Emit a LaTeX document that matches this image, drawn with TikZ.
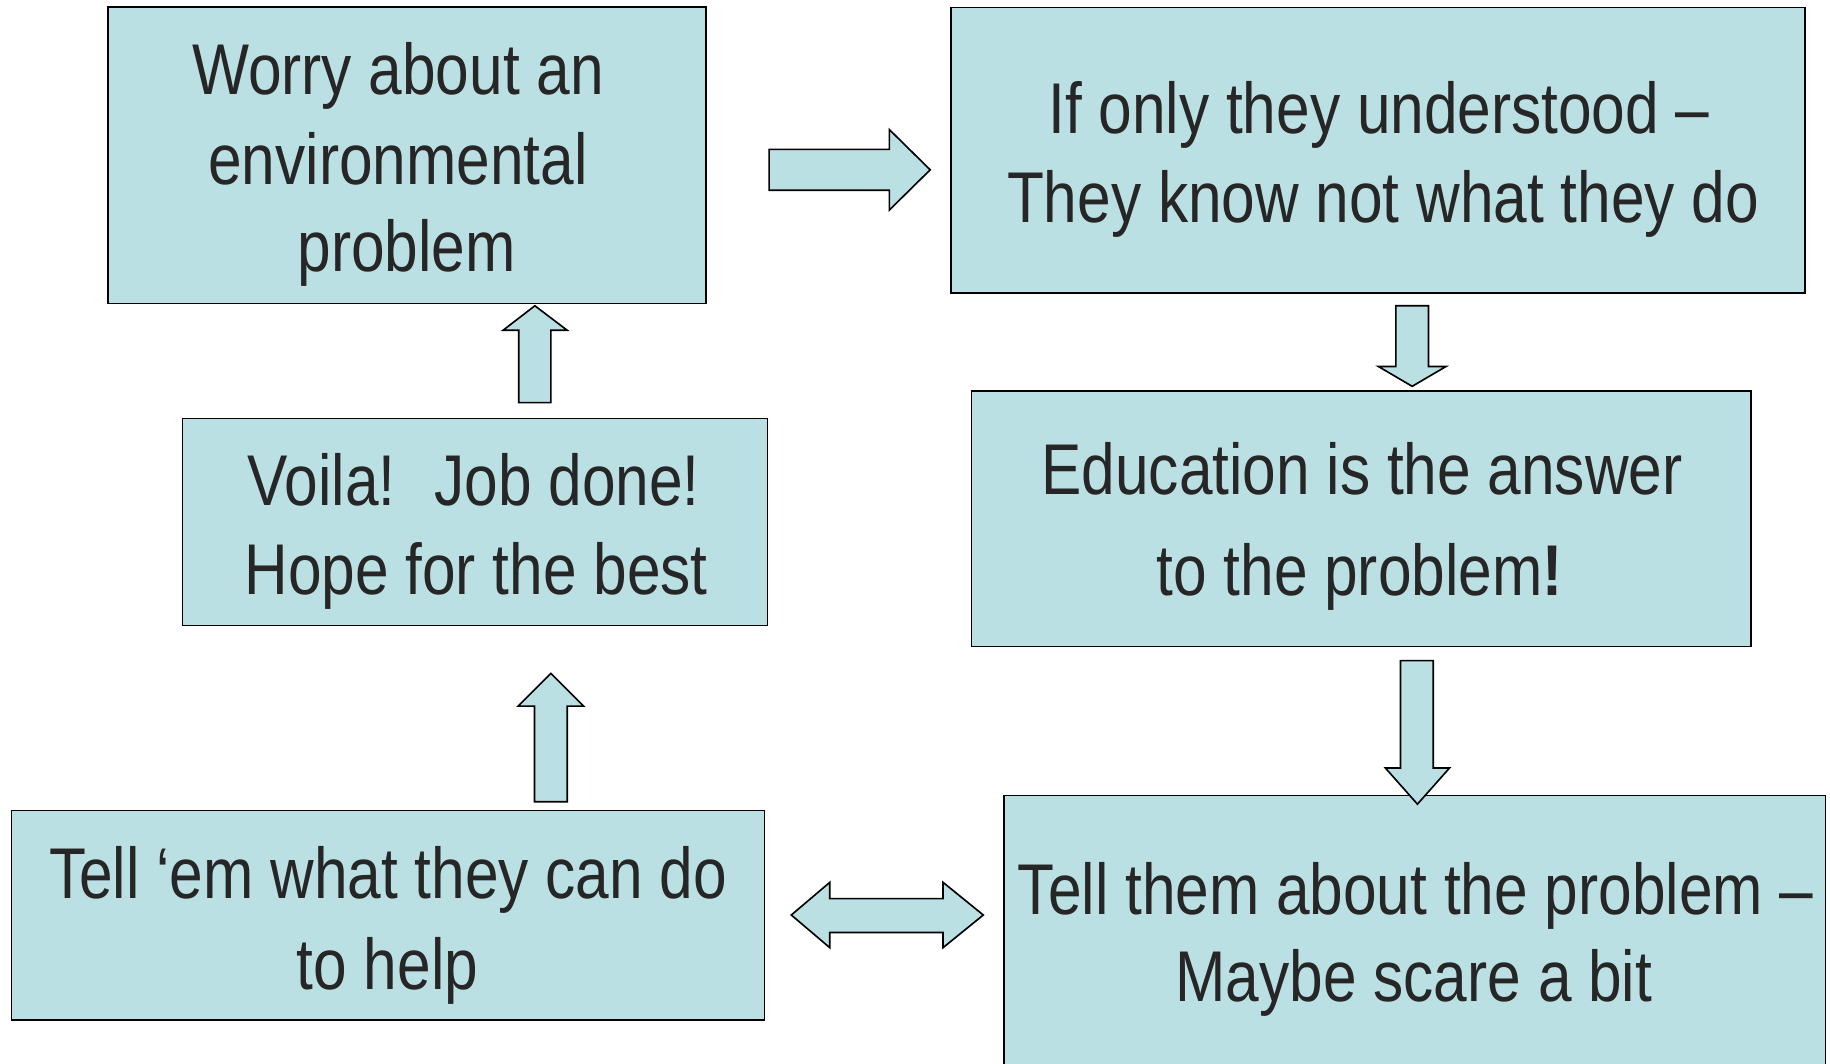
\documentclass[tikz,border=0pt]{standalone}
\usepackage{fontspec}
\newfontfamily\narrowfont{Liberation Sans}[FakeStretch=0.84]
\definecolor{boxfill}{RGB}{187,224,227}
\definecolor{ink}{RGB}{38,38,38}
\begin{document}
\begin{tikzpicture}[x=0.5pt,y=-0.5pt,
  box/.style={draw=black, fill=boxfill, line width=0.7pt, inner sep=0pt, outer sep=0pt},
  lbl/.style={anchor=base, inner sep=0pt, text=ink, font=\narrowfont\fontsize{30.8pt}{38pt}\selectfont},
  blockarrow/.style={draw=black, fill=boxfill, line width=0.7pt, line join=miter}]
\clip (0,0) rectangle (1568,911);
\fill[white] (0,0) rectangle (1568,911);

% boxes
\node[box, minimum width=256.25pt, minimum height=127pt]   (b1) at (348.75,133)   {};
\node[box, minimum width=365.75pt, minimum height=122.3pt] (b2) at (1180.75,128.7) {};
\node[box, minimum width=334pt,    minimum height=109.5pt] (b3) at (1166.5,444.5) {};
\node[box, minimum width=351.75pt, minimum height=129.25pt] (b4) at (1212.25,810.75) {};
\node[box, minimum width=322.5pt,  minimum height=89.7pt]  (b5) at (332.5,784.3)  {};
\node[box, minimum width=250.5pt,  minimum height=88.75pt] (b6) at (407,447.25)   {};

% texts
\node[lbl] (t1a) at (341,80.6)  {Worry about an};
\node[lbl] (t1b) at (341,158)   {environmental};
\node[lbl] (t1c) at (348.5,233) {problem};

\node[lbl] (t2a) at (1181.5,114.5) {If only they understood –};
\node[lbl] (t2b) at (1185,191)     {They know not what they do};

\node[lbl] (t3a) at (1167,424)   {Education is the answer};
\node[lbl] (t3b) at (1165,510.5) {to the problem{\bfseries !}};

\node[lbl] (t4a) at (1213,783.6)  {Tell them about the problem –};
\node[lbl] (t4b) at (1211.5,858)  {Maybe scare a bit};

\node[lbl] (t5a) at (332.5,770) {Tell ‘em what they can do};
\node[lbl] (t5b) at (332,848)   {to help};

\node[lbl] (t6a) at (406,433) {Voila!~ Job done!};
\node[lbl] (t6b) at (408,509) {Hope for the best};

% block arrows
% b1 -> b2
\draw[blockarrow] (659,128) -- (762,128) -- (762,111) -- (797,145.5) -- (762,180) -- (762,163) -- (659,163) -- cycle;
% b2 -> b3
\draw[blockarrow] (1196,262) -- (1224,262) -- (1224,314) -- (1239,314) -- (1210,331) -- (1181,314) -- (1196,314) -- cycle;
% b3 -> b4
\draw[blockarrow] (1200,566) -- (1228,566) -- (1228,658) -- (1242,658) -- (1214.5,689) -- (1187,658) -- (1200,658) -- cycle;
% b4 <-> b5
\draw[blockarrow] (678,784) -- (711,756) -- (711,770) -- (808,770) -- (808,756) -- (842.5,784) -- (808,812) -- (808,799) -- (711,799) -- (711,812) -- cycle;
% b5 -> b6
\draw[blockarrow] (458,687) -- (458,605) -- (444,605) -- (472,577) -- (500,605) -- (486,605) -- (486,687) -- cycle;
% b6 -> b1
\draw[blockarrow] (444.5,345) -- (444.5,283) -- (431,283) -- (458.3,262) -- (486,283) -- (472,283) -- (472,345) -- cycle;
\end{tikzpicture}
\end{document}
